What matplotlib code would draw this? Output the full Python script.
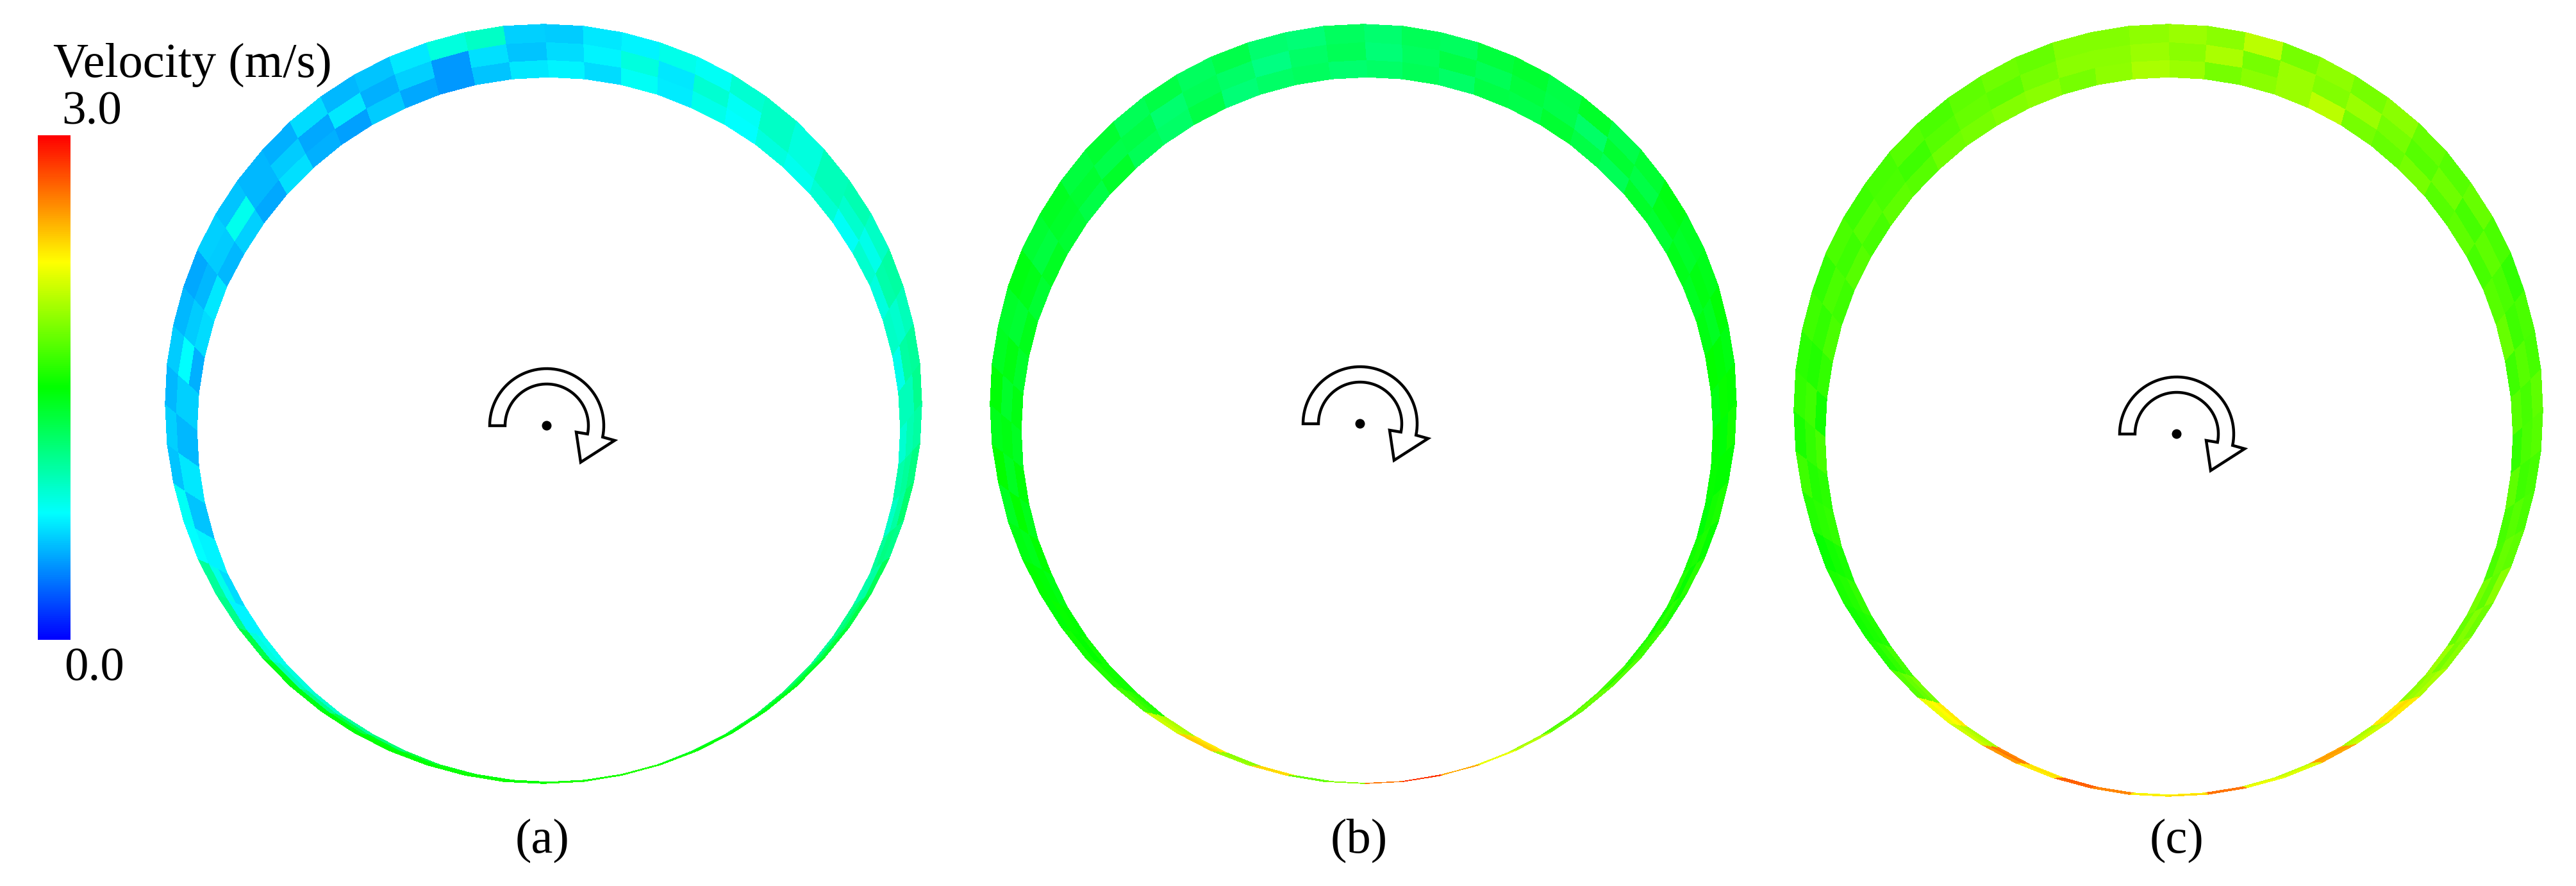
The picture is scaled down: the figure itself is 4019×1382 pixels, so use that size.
import numpy as np
import matplotlib
matplotlib.use('Agg')
import matplotlib.pyplot as plt
from matplotlib.colors import LinearSegmentedColormap, Normalize
from matplotlib.cm import ScalarMappable
from matplotlib.patches import Polygon, Circle

# Velocity, 60 sectors of 6 degrees, clockwise from the top
a_inner = [0.72,0.65,0.78,0.70,0.82,0.75,0.85,0.80,0.88,0.78,0.90,0.85,0.92,0.82,0.95,
           0.88,1.00,0.92,1.05,1.00,1.10,1.05,1.15,1.25,1.30,1.35,1.30,1.40,1.50,1.45,
           1.50,1.45,1.40,1.30,1.15,1.05,0.90,0.85,0.80,0.72,0.65,0.72,0.58,0.68,0.55,
           0.62,0.52,0.65,0.68,0.55,0.62,0.50,0.66,0.52,0.48,0.60,0.50,0.45,0.58,0.68]
a_mid = [0.65,0.72,0.85,0.68,0.88,0.78,0.92,0.85,0.95,0.90,0.82,1.00,0.90,1.02,0.95,
         0.98,1.05,1.02,1.12,1.02,1.18,1.22,1.28,1.35,1.40,1.45,1.50,1.58,1.55,1.50,
         1.58,1.50,1.55,1.50,1.45,1.30,1.10,0.95,0.85,0.72,0.82,0.72,0.58,0.68,0.55,
         0.62,0.75,0.60,0.55,0.60,0.80,0.55,0.60,0.50,0.68,0.52,0.62,0.45,0.66,0.58]
a_outer = [0.60,0.68,0.72,0.82,0.78,0.88,0.92,0.85,0.95,0.98,0.92,1.02,0.95,1.05,1.08,
           1.02,1.12,1.18,1.10,1.25,1.30,1.35,1.40,1.45,1.48,1.52,1.55,1.60,1.58,1.60,
           1.52,1.55,1.52,1.50,1.50,1.48,1.45,1.45,1.30,1.10,1.05,0.75,0.78,0.58,0.62,
           0.55,0.60,0.55,0.50,0.62,0.58,0.55,0.52,0.65,0.55,0.58,0.68,0.85,0.92,0.62]

b_inner = [1.20,1.25,1.20,1.30,1.28,1.35,1.30,1.25,1.38,1.35,1.42,1.40,1.45,1.50,1.45,
           1.50,1.52,1.48,1.55,1.60,1.55,1.60,1.70,1.75,1.70,1.90,2.10,2.40,2.75,2.55,
           1.80,1.75,2.30,1.90,2.30,2.00,1.60,1.55,1.55,1.50,1.45,1.50,1.42,1.48,1.40,
           1.45,1.38,1.42,1.35,1.40,1.35,1.30,1.38,1.25,1.20,1.30,1.15,1.20,1.22,1.18]
b_mid = [1.15,1.22,1.30,1.25,1.32,1.28,1.20,1.35,1.30,1.42,1.38,1.45,1.40,1.48,1.52,
         1.48,1.50,1.55,1.58,1.52,1.62,1.65,1.60,1.85,1.75,2.00,2.15,2.45,2.80,2.60,
         1.85,1.75,2.40,1.90,2.35,2.05,1.65,1.55,1.50,1.52,1.48,1.42,1.50,1.40,1.45,
         1.38,1.45,1.35,1.42,1.32,1.38,1.35,1.28,1.30,1.18,1.25,1.20,1.12,1.20,1.25]
b_outer = [1.18,1.25,1.22,1.32,1.35,1.30,1.38,1.28,1.35,1.45,1.40,1.42,1.48,1.45,1.50,
           1.55,1.50,1.58,1.52,1.62,1.58,1.68,1.75,1.80,1.80,2.05,2.20,2.50,2.85,2.65,
           1.90,1.80,2.35,1.95,2.40,2.10,1.70,1.60,1.55,1.48,1.50,1.45,1.40,1.50,1.42,
           1.48,1.40,1.38,1.45,1.35,1.40,1.32,1.35,1.25,1.30,1.22,1.28,1.18,1.15,1.22]

c_inner = [1.95,1.85,1.90,1.95,2.05,1.85,1.80,1.85,1.75,1.78,1.70,1.75,1.80,1.68,1.75,
           1.65,1.78,1.70,1.72,1.85,1.80,1.95,1.90,2.30,2.00,2.50,2.05,2.10,2.65,2.25,
           2.20,2.60,2.70,2.30,2.60,2.00,2.30,1.85,1.70,1.60,1.65,1.58,1.65,1.62,1.70,
           1.55,1.65,1.72,1.68,1.75,1.70,1.78,1.75,1.82,1.85,1.88,1.90,1.85,1.92,2.00]
c_mid = [1.90,2.00,1.85,1.95,1.88,1.95,1.85,1.75,1.82,1.70,1.78,1.72,1.68,1.75,1.70,
         1.72,1.68,1.75,1.80,1.78,1.88,1.85,1.95,2.35,2.05,2.55,2.10,2.15,2.70,2.30,
         2.25,2.65,2.75,2.35,2.65,2.05,2.25,1.80,1.65,1.58,1.60,1.55,1.62,1.60,1.65,
         1.68,1.60,1.65,1.72,1.68,1.75,1.72,1.68,1.75,1.80,1.78,1.85,1.90,1.90,1.95]
c_outer = [1.95,1.90,2.05,1.85,1.92,1.85,1.90,1.80,1.75,1.80,1.72,1.65,1.72,1.70,1.78,
           1.75,1.70,1.72,1.78,1.90,1.82,1.90,2.00,2.30,2.10,2.50,2.15,2.20,2.65,2.35,
           2.30,2.60,2.70,2.30,2.55,2.10,2.20,1.75,1.60,1.55,1.58,1.52,1.60,1.68,1.58,
           1.65,1.62,1.68,1.65,1.72,1.68,1.70,1.75,1.72,1.78,1.82,1.80,1.88,1.88,1.92]

panel_values = [[a_inner, a_mid, a_outer], [b_inner, b_mid, b_outer], [c_inner, c_mid, c_outer]]
panel_labels = ['(a)', '(b)', '(c)']

# Ring edges as cx, cy, rx, ry in pixels of the figure
outer_edges = [(848, 630, 590, 592), (2127, 630, 582, 592), (3383, 640, 584, 602)]
inner_edges = [(856, 670, 549, 550), (2133, 671, 540, 551), (3384, 680, 537, 560)]
pivots = [(853, 664), (2122, 661), (3396, 677)]
label_pos = [(846, 1311), (2120, 1311), (3396, 1311)]

velocity_colors = ['#0000ff', '#00ffff', '#00ff00', '#ffff00', '#ff0000']
cmap = LinearSegmentedColormap.from_list('velocity', velocity_colors)
norm = Normalize(0.0, 3.0)

W, H = 4019, 1382
fig = plt.figure(figsize=(W / 100, H / 100), dpi=100, facecolor='white')
ax = fig.add_axes([0, 0, 1, 1])
ax.set_xlim(0, W)
ax.set_ylim(H, 0)
ax.axis('off')

plt.rcParams['font.family'] = ['Liberation Serif', 'DejaVu Serif']


def ring_mesh(ax, values, outer, inner):
    c = np.array(values)
    theta = np.radians(np.linspace(0, 360, c.shape[1] + 1))
    frac = np.linspace(0, 1, c.shape[0] + 1)[:, None]
    x_in = inner[0] + inner[2] * np.sin(theta)
    y_in = inner[1] - inner[3] * np.cos(theta)
    x_out = outer[0] + outer[2] * np.sin(theta)
    y_out = outer[1] - outer[3] * np.cos(theta)
    x = x_in + frac * (x_out - x_in)
    y = y_in + frac * (y_out - y_in)
    ax.pcolormesh(x, y, c, cmap=cmap, norm=norm, shading='flat', edgecolors='face', linewidth=0.3)


def rotation_arrow(ax, cx, cy):
    # arc band going clockwise from the left side, then the open head
    t = np.radians(np.linspace(180, -11.5, 60))
    outer = np.column_stack([cx + 89 * np.cos(t), cy - 89 * np.sin(t)])
    inner = np.column_stack([cx + 65 * np.cos(t), cy - 65 * np.sin(t)])[::-1]
    head = np.array([[cx + 106, cy + 23], [cx + 53, cy + 57], [cx + 46, cy + 10]])
    pts = np.vstack([outer, head, inner])
    ax.add_patch(Polygon(pts, closed=True, facecolor='white', edgecolor='black', linewidth=3.2, joinstyle='miter'))
    ax.add_patch(Circle((cx, cy), 7.5, facecolor='black', edgecolor='none'))


for i in range(3):
    ring_mesh(ax, panel_values[i], outer_edges[i], inner_edges[i])
    rotation_arrow(ax, pivots[i][0], pivots[i][1])
    ax.text(label_pos[i][0], label_pos[i][1], panel_labels[i], fontsize=55, ha='center', va='center')

# Colour bar
cax = fig.add_axes([59 / W, 1 - 998 / H, 51 / W, 787 / H])
cb = fig.colorbar(ScalarMappable(norm=norm, cmap=cmap), cax=cax)
cb.outline.set_visible(False)
cb.set_ticks([])

ax.text(83, 120, 'Velocity (m/s)', fontsize=55, ha='left', va='baseline')
ax.text(96, 193, '3.0', fontsize=54, ha='left', va='baseline')
ax.text(100, 1062, '0.0', fontsize=54, ha='left', va='baseline')

fig.savefig('out.png', dpi=100)
